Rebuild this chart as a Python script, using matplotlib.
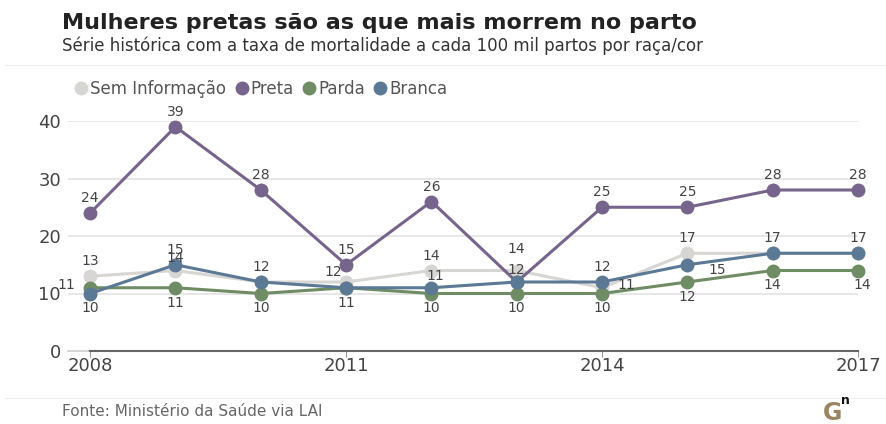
import matplotlib.pyplot as plt
from matplotlib.lines import Line2D

years = [2008, 2009, 2010, 2011, 2012, 2013, 2014, 2015, 2016, 2017]
sem_info = [13, 14, 12, 12, 14, 14, 11, 17, 17, 17]
preta = [24, 39, 28, 15, 26, 12, 25, 25, 28, 28]
parda = [11, 11, 10, 11, 10, 10, 10, 12, 14, 14]
branca = [10, 15, 12, 11, 11, 12, 12, 15, 17, 17]
xticks = [2008, 2011, 2014, 2017]
yticks = [0, 10, 20, 30, 40]

c_sem = '#d8d6d3'
c_preta = '#76648c'
c_parda = '#6f8c65'
c_branca = '#5b7995'
c_text = '#444444'

plt.rcParams['font.family'] = ['DejaVu Sans']

W, H = 886, 424
fig = plt.figure(figsize=(W / 100, H / 100), dpi=100)
fig.patch.set_facecolor('white')

# axes: x 2008 -> 88px, 2017 -> 858px, y 0 -> 351px, 40 -> 121px
ax = fig.add_axes([68 / W, (H - 351) / H, 790 / W, 230 / H])
ax.set_xlim(2007.74, 2017.0)
ax.set_ylim(0, 40)

for y in yticks[1:]:
    ax.axhline(y, color='#e3e3e3', lw=1.2, zorder=0)
ax.plot([2007.74, 2008], [0, 0], color='#cccccc', lw=1.2, clip_on=False)
ax.plot([2008, 2017], [0, 0], color='#666666', lw=1.5, clip_on=False)

series = [(sem_info, c_sem), (preta, c_preta), (parda, c_parda), (branca, c_branca)]
for vals, col in series:
    ax.plot(years, vals, color=col, lw=2.2, marker='o', ms=9, clip_on=False, zorder=3)

lab_kw = dict(fontsize=10, color=c_text, zorder=5)
def lab(vals, i, dy, dx=0.0, ha='center'):
    ax.text(years[i] + dx, vals[i] + dy, str(vals[i]), ha=ha, va='center', **lab_kw)

# preta
for i in range(len(years)):
    if i == 5:
        lab(preta, i, 2.0)
    else:
        lab(preta, i, 2.6)
# sem info
for i, dy, dx in [(0, 2.6, 0), (1, 2.1, 0), (3, 1.8, -0.15), (4, 2.6, 0), (5, 3.8, 0),
                  (6, 0.4, 0.28), (7, 2.6, 0)]:
    lab(sem_info, i, dy, dx)
# branca
for i, dy, dx in [(0, -2.6, 0), (1, 2.6, 0), (2, 2.6, 0), (4, 2.0, 0.05),
                  (6, 2.6, 0), (7, -0.9, 0.35), (8, 2.6, 0), (9, 2.6, 0)]:
    lab(branca, i, dy, dx)
# parda
for i, dy, dx in [(0, 0.5, -0.28), (1, -2.6, 0), (2, -2.6, 0), (3, -2.6, 0), (4, -2.6, 0),
                  (5, -2.6, 0), (6, -2.6, 0), (7, -2.6, 0), (8, -2.6, 0), (9, -2.6, 0.05)]:
    lab(parda, i, dy, dx)

ax.set_xticks(xticks)
ax.set_xticklabels([str(x) for x in xticks], fontsize=13, color=c_text)
ax.set_yticks(yticks)
ax.set_yticklabels([str(y) for y in yticks], fontsize=13, color=c_text)
ax.tick_params(axis='x', length=4, color='#999999', pad=0)
ax.tick_params(axis='y', length=0, pad=5)
for s in ax.spines.values():
    s.set_visible(False)

# title, subtitle
fig.text(62 / W, 1 - 23 / H, 'Mulheres pretas são as que mais morrem no parto',
         fontsize=16, fontweight='bold', color='#222222', va='center')
fig.text(62 / W, 1 - 46 / H, 'Série histórica com a taxa de mortalidade a cada 100 mil partos por raça/cor',
         fontsize=12, color='#333333', va='center')
fig.add_artist(Line2D([5 / W, 1], [1 - 65 / H, 1 - 65 / H], color='#f0f0f0', lw=1))

handles = [Line2D([], [], ls='none', marker='o', ms=9, color=c) for c in [c_sem, c_preta, c_parda, c_branca]]
fig.legend(handles, ['Sem Informação', 'Preta', 'Parda', 'Branca'], ncol=4,
           loc='center left', bbox_to_anchor=(58 / W, 1 - 89 / H), frameon=False,
           fontsize=12, labelcolor='#555555', handletextpad=0.05, columnspacing=0.4,
           handlelength=1.0)

fig.add_artist(Line2D([5 / W, 1], [1 - 398 / H, 1 - 398 / H], color='#f0f0f0', lw=1))
fig.text(62 / W, 1 - 412 / H, 'Fonte: Ministério da Saúde via LAI', fontsize=11,
         color='#666666', va='center')
fig.text(823 / W, 1 - 413 / H, 'G', fontsize=17, fontweight='bold', color='#9a8462',
         va='center', ha='left')
fig.text(841 / W, 1 - 401 / H, 'n', fontsize=9, fontweight='bold', color='#111111',
         va='center', ha='left')

fig.savefig('out.png', dpi=100)
